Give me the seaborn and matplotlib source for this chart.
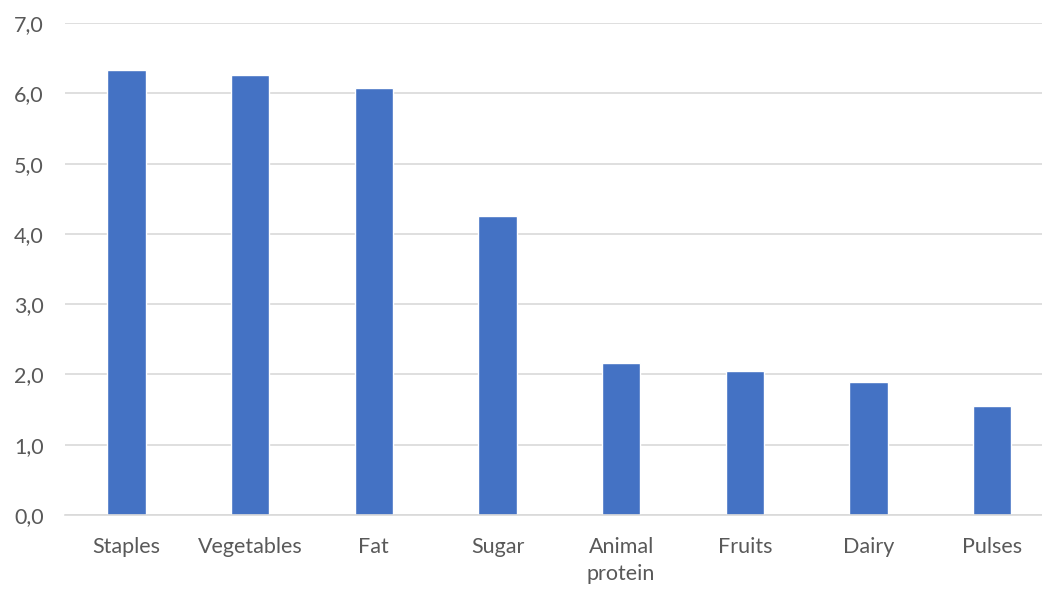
import matplotlib
matplotlib.use("Agg")
import matplotlib.pyplot as plt
import seaborn as sns
import pandas as pd
from matplotlib.ticker import FuncFormatter, MultipleLocator

categories = ["Staples", "Vegetables", "Fat", "Sugar", "Animal\nprotein",
              "Fruits", "Dairy", "Pulses"]
values = [6.33, 6.26, 6.07, 4.25, 2.16, 2.05, 1.89, 1.55]

df = pd.DataFrame({"category": categories, "value": values})

sns.set_theme(style="white")
plt.rcParams["font.family"] = ["Lato", "DejaVu Sans"]

fig = plt.figure(figsize=(10.42, 5.90), dpi=100)
ax = fig.add_axes([0.0621, 0.127, 0.9494, 0.834])

sns.barplot(data=df, x="category", y="value", color="#4472C4",
            width=0.31, saturation=1, ax=ax)

ax.set_ylim(0, 7)
ax.yaxis.set_major_locator(MultipleLocator(1))
ax.yaxis.set_major_formatter(FuncFormatter(lambda v, _: f"{v:.1f}".replace(".", ",")))
ax.grid(axis="y", color="#D9D9D9", linewidth=1.2)
ax.set_axisbelow(True)

for side in ["top", "right", "left"]:
    ax.spines[side].set_visible(False)
ax.spines["bottom"].set_color("#D9D9D9")
ax.spines["bottom"].set_linewidth(1.2)

ax.tick_params(axis="both", length=0, colors="#595959", labelsize=15.5)
ax.tick_params(axis="y", pad=15)
ax.tick_params(axis="x", pad=16)
for lbl in ax.get_xticklabels():
    lbl.set_linespacing(1.45)
ax.set_xlabel("")
ax.set_ylabel("")

fig.savefig("out.png", dpi=100)
